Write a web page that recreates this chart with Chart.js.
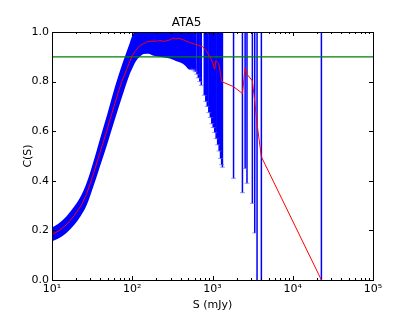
<!DOCTYPE html>
<html>
<head>
<meta charset="utf-8">
<script src="https://cdn.jsdelivr.net/npm/chart.js@4"></script>
<style>
  html, body { margin: 0; padding: 0; background: #fff; }
  #wrap { width: 415px; height: 312px; }
</style>
</head>
<body>
<div id="wrap"><canvas id="chart" width="415" height="312"></canvas></div>
<script>
// completeness curve C(S), red line
const curveS = [10, 12, 15, 19, 23, 26.9, 33, 39.3, 48, 60.4, 74, 92.9, 100, 110, 124, 157, 200, 220, 250, 270, 293, 322, 350, 380, 420, 451, 520, 571, 660, 759, 830, 878, 968, 1065, 1100, 1200, 1300, 1820, 2360, 2550, 2690, 3140, 3360, 3590, 4064, 22750];
const curveC = [0.184, 0.197, 0.222, 0.26, 0.30, 0.345, 0.43, 0.51, 0.60, 0.71, 0.80, 0.88, 0.905, 0.925, 0.945, 0.962, 0.963, 0.966, 0.962, 0.965, 0.968, 0.976, 0.972, 0.975, 0.97, 0.966, 0.958, 0.953, 0.947, 0.94, 0.925, 0.913, 0.89, 0.85, 0.884, 0.872, 0.80, 0.78, 0.752, 0.855, 0.83, 0.803, 0.72, 0.63, 0.497, 0];

// envelope of the packed error bars at the faint end
const bandS = [10, 12, 15, 19, 23, 26.9, 33, 39.3, 48, 60.4, 74, 92.9, 100, 110, 124, 140, 160, 180, 220, 293, 356, 428, 451, 521, 580];
const bandLo = [0.156, 0.167, 0.189, 0.223, 0.26, 0.30, 0.38, 0.455, 0.54, 0.645, 0.735, 0.83, 0.853, 0.88, 0.9, 0.911, 0.912, 0.905, 0.9, 0.893, 0.882, 0.872, 0.866, 0.848, 0.85];
const bandHi = [0.212, 0.227, 0.255, 0.297, 0.34, 0.39, 0.48, 0.565, 0.66, 0.775, 0.865, 0.955, 0.985, 1.01, 1.03, 1.04, 1.04, 1.04, 1.04, 1.04, 1.05, 1.05, 1.05, 1.05, 1.05];

// single error bars
const barS = [560, 585, 610, 640, 665, 695, 725, 790, 825, 860, 900, 940, 980, 1020, 1065, 1110, 1160, 1210, 1260, 1300, 1330, 1830, 2360, 2550, 2690, 3140, 3360, 3590, 4064, 22750];
const barC = [0.954, 0.952, 0.95, 0.948, 0.946, 0.944, 0.942, 0.937, 0.93, 0.918, 0.906, 0.897, 0.887, 0.868, 0.85, 0.884, 0.878, 0.872, 0.84, 0.80, 0.80, 0.78, 0.752, 0.855, 0.83, 0.803, 0.72, 0.63, 0.497, 0];
const barErr = [0.104, 0.106, 0.11, 0.118, 0.131, 0.144, 0.157, 0.192, 0.21, 0.218, 0.231, 0.242, 0.257, 0.253, 0.255, 0.314, 0.333, 0.352, 0.35, 0.335, 0.345, 0.37, 0.40, 0.405, 0.44, 0.494, 0.53, 0.7, 0.6, 1.0];

const target = 0.9;
const xTicks = [10, 100, 1000, 10000, 100000];
const xTickLabels = ['10¹', '10²', '10³', '10⁴', '10⁵'];

const pts = (xs, ys) => xs.map((x, i) => ({x: x, y: ys[i]}));

const barPts = [];
barS.forEach((s, i) => {
    barPts.push({x: s, y: barC[i] - barErr[i]});
    barPts.push({x: s, y: barC[i] + barErr[i]});
    barPts.push({x: s, y: null});
});

// box round the plot with inward ticks
const frame = {
    id: 'frame',
    afterDatasetsDraw(chart) {
        const {ctx, chartArea: a, scales: {x, y}} = chart;
        ctx.save();
        ctx.strokeStyle = '#000';
        ctx.lineWidth = 1;
        ctx.beginPath();
        for (let d = 1; d <= 5; d++) {
            for (let m = 1; m < 10; m++) {
                if (d === 5 && m > 1) break;
                const px = Math.round(x.getPixelForValue(m * Math.pow(10, d))) + 0.5;
                const len = m === 1 ? 4 : 2;
                ctx.moveTo(px, a.bottom);
                ctx.lineTo(px, a.bottom - len);
                ctx.moveTo(px, a.top);
                ctx.lineTo(px, a.top + len);
            }
        }
        [0, 0.2, 0.4, 0.6, 0.8, 1].forEach(v => {
            const py = Math.round(y.getPixelForValue(v)) + 0.5;
            ctx.moveTo(a.left, py);
            ctx.lineTo(a.left + 4, py);
            ctx.moveTo(a.right, py);
            ctx.lineTo(a.right - 4, py);
        });
        ctx.stroke();
        ctx.strokeRect(Math.round(a.left) + 0.5, Math.round(a.top) + 0.5, Math.round(a.width), Math.round(a.height));
        ctx.restore();
    }
};

new Chart(document.getElementById('chart'), {
    type: 'scatter',
    data: {
        datasets: [
            {
                data: pts(curveS, curveC),
                showLine: true,
                borderColor: '#ff0000',
                borderWidth: 1,
                pointRadius: 0,
                order: 0,
            },
            {
                data: [{x: 10, y: target}, {x: 100000, y: target}],
                showLine: true,
                borderColor: '#008000',
                borderWidth: 1.2,
                pointRadius: 0,
                order: 1,
            },
            {
                data: barPts,
                showLine: true,
                spanGaps: false,
                borderColor: '#0000ff',
                borderWidth: 1.5,
                pointStyle: 'line',
                pointRadius: ctx => ctx.dataIndex % 3 === 0 ? 2.5 : 0,
                pointBorderColor: 'rgba(90,90,255,0.6)',
                pointBorderWidth: 1,
                clip: 0,
                order: 2,
            },
            {
                data: pts(bandS, bandHi),
                showLine: true,
                cubicInterpolationMode: 'monotone',
                borderWidth: 0,
                borderColor: 'rgba(0,0,0,0)',
                pointRadius: 0,
                order: 3,
                clip: 0,
            },
            {
                data: pts(bandS, bandLo),
                showLine: true,
                cubicInterpolationMode: 'monotone',
                borderWidth: 0,
                borderColor: 'rgba(0,0,0,0)',
                backgroundColor: '#0000ff',
                fill: '-1',
                pointRadius: 0,
                order: 3,
                clip: 0,
            },
        ]
    },
    options: {
        responsive: false,
        animation: false,
        events: [],
        layout: { padding: { left: 0, right: 42, top: 0, bottom: 0 } },
        plugins: {
            legend: { display: false },
            tooltip: { enabled: false },
            title: {
                display: true,
                text: 'ATA5',
                color: '#000',
                font: { family: 'DejaVu Sans', size: 12, weight: 'normal', lineHeight: 1.2 },
                padding: { top: 16, bottom: 1.6 },
            },
        },
        scales: {
            x: {
                type: 'logarithmic',
                min: 10,
                max: 100000,
                afterBuildTicks: s => { s.ticks = xTicks.map(v => ({value: v})); },
                afterFit: s => { s.height = 32; },
                grid: { display: false, drawTicks: false },
                border: { display: false },
                ticks: {
                    autoSkip: false,
                    maxRotation: 0,
                    padding: 3,
                    color: '#000',
                    font: { family: 'DejaVu Sans', size: 11 },
                    callback: v => xTickLabels[xTicks.indexOf(v)],
                },
                title: {
                    display: true,
                    text: 'S (mJy)',
                    color: '#000',
                    font: { family: 'DejaVu Sans', size: 11, lineHeight: 1.2 },
                    padding: { top: 4, bottom: 0 },
                },
            },
            y: {
                min: 0,
                max: 1,
                afterFit: s => { s.width = 52; },
                grid: { display: false, drawTicks: false },
                border: { display: false },
                ticks: {
                    stepSize: 0.2,
                    padding: 3,
                    color: '#000',
                    font: { family: 'DejaVu Sans', size: 11 },
                    callback: v => v.toFixed(1),
                },
                title: {
                    display: true,
                    text: 'C(S)',
                    color: '#000',
                    font: { family: 'DejaVu Sans', size: 11, lineHeight: 1.2 },
                    padding: { top: 21.4, bottom: 0 },
                },
            },
        },
    },
    plugins: [frame],
});
</script>
</body>
</html>
